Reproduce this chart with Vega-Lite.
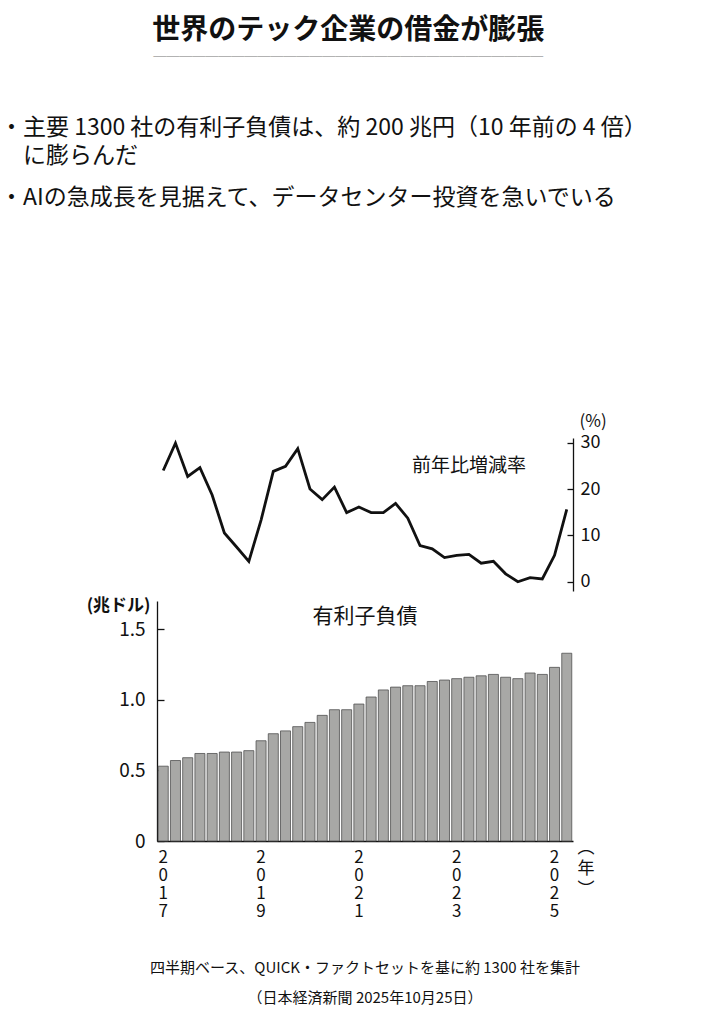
{
  "$schema": "https://vega.github.io/schema/vega-lite/v6.json",
  "padding": {"left": 0, "top": 17, "right": 5, "bottom": 5},
  "background": "white",
  "config": {
    "font": "Noto Sans CJK JP",
    "view": {"stroke": null},
    "axis": {"grid": false, "domainColor": "#111", "tickColor": "#111", "labelColor": "#111", "titleColor": "#111", "labelFont": "Noto Sans CJK JP", "titleFont": "Noto Sans CJK JP"}
  },
  "title": {
    "text": "世界のテック企業の借金が膨張",
    "fontSize": 28,
    "fontWeight": "bold",
    "color": "#111",
    "anchor": "middle",
    "dx": 25,
    "offset": 53,
    "subtitle": "──────────────────────────────",
    "subtitleFontSize": 13,
    "subtitleColor": "#777",
    "subtitlePadding": 6
  },
  "datasets": {
    "debt": [
      {"q": "2017Q1", "debt": 0.53, "yoy": 24.0},
      {"q": "2017Q2", "debt": 0.57, "yoy": 29.9},
      {"q": "2017Q3", "debt": 0.59, "yoy": 22.7},
      {"q": "2017Q4", "debt": 0.62, "yoy": 24.6},
      {"q": "2018Q1", "debt": 0.62, "yoy": 18.7},
      {"q": "2018Q2", "debt": 0.63, "yoy": 10.5},
      {"q": "2018Q3", "debt": 0.63, "yoy": 7.5},
      {"q": "2018Q4", "debt": 0.64, "yoy": 4.4},
      {"q": "2019Q1", "debt": 0.71, "yoy": 13.3},
      {"q": "2019Q2", "debt": 0.76, "yoy": 23.8},
      {"q": "2019Q3", "debt": 0.78, "yoy": 24.9},
      {"q": "2019Q4", "debt": 0.81, "yoy": 28.7},
      {"q": "2020Q1", "debt": 0.84, "yoy": 20.0},
      {"q": "2020Q2", "debt": 0.89, "yoy": 17.7},
      {"q": "2020Q3", "debt": 0.93, "yoy": 20.4},
      {"q": "2020Q4", "debt": 0.93, "yoy": 14.9},
      {"q": "2021Q1", "debt": 0.97, "yoy": 16.1},
      {"q": "2021Q2", "debt": 1.02, "yoy": 14.9},
      {"q": "2021Q3", "debt": 1.07, "yoy": 14.9},
      {"q": "2021Q4", "debt": 1.09, "yoy": 16.9},
      {"q": "2022Q1", "debt": 1.10, "yoy": 13.7},
      {"q": "2022Q2", "debt": 1.10, "yoy": 7.8},
      {"q": "2022Q3", "debt": 1.13, "yoy": 7.1},
      {"q": "2022Q4", "debt": 1.14, "yoy": 5.2},
      {"q": "2023Q1", "debt": 1.15, "yoy": 5.7},
      {"q": "2023Q2", "debt": 1.16, "yoy": 5.9},
      {"q": "2023Q3", "debt": 1.17, "yoy": 4.0},
      {"q": "2023Q4", "debt": 1.18, "yoy": 4.4},
      {"q": "2024Q1", "debt": 1.16, "yoy": 1.7},
      {"q": "2024Q2", "debt": 1.15, "yoy": 0.0},
      {"q": "2024Q3", "debt": 1.19, "yoy": 0.9},
      {"q": "2024Q4", "debt": 1.18, "yoy": 0.6},
      {"q": "2025Q1", "debt": 1.23, "yoy": 5.7},
      {"q": "2025Q2", "debt": 1.33, "yoy": 15.6}
    ]
  },
  "spacing": 5,
  "vconcat": [
    {
      "width": 416,
      "height": 153,
      "title": {
        "text": ["・主要 1300 社の有利子負債は、約 200 兆円（10 年前の 4 倍）", "\u200b\u3000に膨らんだ"],
        "subtitle": "・AIの急成長を見据えて、データセンター投資を急いでいる",
        "anchor": "start",
        "frame": "group",
        "dx": -157,
        "offset": 202,
        "fontSize": 23,
        "fontWeight": "normal",
        "lineHeight": 28,
        "color": "#111",
        "subtitleFontSize": 23,
        "subtitleColor": "#111",
        "subtitleLineHeight": 28,
        "subtitlePadding": 19
      },
      "layer": [
        {
          "data": {"name": "debt"},
          "mark": {"type": "line", "color": "#111", "strokeWidth": 2.8, "strokeJoin": "miter"},
          "encoding": {
            "x": {"field": "q", "type": "ordinal", "sort": null, "scale": {"type": "band", "paddingInner": 0.18, "paddingOuter": 0.1}, "axis": null},
            "y": {
              "field": "yoy", "type": "quantitative",
              "scale": {"domain": [-2, 31], "nice": false, "zero": false},
              "axis": {
                "orient": "right", "values": [0, 10, 20, 30], "tickSize": -6, "labelPadding": 13,
                "labelFontSize": 18, "domainWidth": 1.3, "tickWidth": 1.3,
                "title": "(%)", "titleAngle": 0, "titleAlign": "left", "titleBaseline": "middle",
                "titleX": 6, "titleY": -17, "titleFontSize": 17, "titleFontWeight": "normal"
              }
            }
          }
        },
        {
          "data": {"values": [{}]},
          "mark": {"type": "text", "fontSize": 19, "color": "#111"},
          "encoding": {
            "x": {"datum": "2023Q2"},
            "y": {"datum": 25},
            "text": {"value": "前年比増減率"}
          }
        }
      ]
    },
    {
      "width": 416,
      "height": 240,
      "title": {
        "text": ["四半期ベース、QUICK・ファクトセットを基に約 1300 社を集計", "（日本経済新聞 2025年10月25日）"],
        "orient": "bottom",
        "anchor": "middle",
        "offset": 42,
        "fontSize": 15,
        "fontWeight": "normal",
        "lineHeight": 30,
        "color": "#111"
      },
      "layer": [
        {
          "data": {"name": "debt"},
          "mark": {"type": "bar", "fill": "#a8a8a6", "stroke": "#505050", "strokeWidth": 0.8},
          "encoding": {
            "x": {
              "field": "q", "type": "ordinal", "sort": null,
              "scale": {"type": "band", "paddingInner": 0.18, "paddingOuter": 0.1},
              "axis": {
                "ticks": false, "labelAngle": 0, "labelBaseline": "top", "labelPadding": 8,
                "labelFontSize": 17, "labelLineHeight": 18, "labelOverlap": false, "labelBound": false, "labelFlush": false,
                "labelExpr": "(substring(datum.value, 4, 6) == 'Q1' && toNumber(substring(datum.value, 0, 4)) % 2 == 1) ? split(substring(datum.value, 0, 4), '') : ''",
                "domainWidth": 1.3,
                "title": ["︵", "年", "︶"], "titleAngle": 0, "titleAlign": "left", "titleBaseline": "top",
                "titleX": 420, "titleY": -2, "titleFontSize": 17, "titleFontWeight": "normal", "titleLineHeight": 21
              }
            },
            "y": {
              "field": "debt", "type": "quantitative",
              "scale": {"domain": [0, 1.7], "nice": false},
              "axis": {
                "values": [0, 0.5, 1, 1.5], "tickSize": -7, "labelPadding": 19,
                "labelExpr": "datum.value == 0 ? '0' : format(datum.value, '.1f')",
                "labelFontSize": 19, "domainWidth": 1.3, "tickWidth": 1.3,
                "title": "(兆ドル)", "titleAngle": 0, "titleAlign": "right", "titleBaseline": "middle",
                "titleX": -7, "titleY": 4, "titleFontSize": 17, "titleFontWeight": "bold"
              }
            }
          }
        },
        {
          "data": {"values": [{}]},
          "mark": {"type": "text", "fontSize": 21, "color": "#111", "dx": 6},
          "encoding": {
            "x": {"datum": "2021Q1"},
            "y": {"datum": 1.59},
            "text": {"value": "有利子負債"}
          }
        }
      ]
    }
  ]
}
